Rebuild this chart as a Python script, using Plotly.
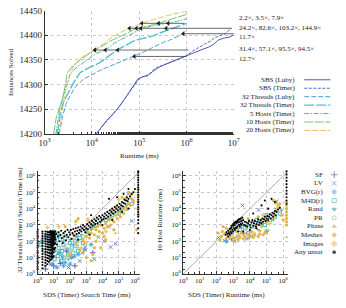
import plotly.graph_objects as go

W, H = 346, 308
FONT = "Liberation Serif"

# ---------------- top: cactus plot data (log10 runtime in ms, instances solved) ----------------
series_names = ["SBS (Luby)", "SBS (Timer)", "32 Threads (Luby)", "32 Threads (Timer)",
                "5 Hosts (Timer)", "10 Hosts (Timer)", "20 Hosts (Timer)"]

sbs_luby_log_ms = [4.09, 4.2, 4.32, 4.43, 4.55, 4.70, 4.82, 4.97, 5.08, 5.18, 5.28, 5.38, 5.5, 5.65,
                   5.8, 5.92, 6.05, 6.13, 6.3, 6.47, 6.58, 6.67, 6.78, 6.9, 7.0]
sbs_luby_solved = [14200, 14214, 14228, 14239, 14252, 14272, 14290, 14311, 14316, 14318, 14326, 14333,
                   14339, 14345, 14350, 14356, 14360, 14363, 14370, 14376, 14382, 14390, 14394, 14396, 14401]

sbs_timer_log_ms = [4.10, 4.22, 4.35, 4.45, 4.58, 4.72, 4.85, 5.0, 5.1, 5.2, 5.3, 5.4, 5.5, 5.6, 5.7,
                    5.8, 5.9, 6.0, 6.1, 6.2, 6.3, 6.4, 6.5, 6.6, 6.7, 6.8, 6.9, 6.96]
sbs_timer_solved = [14200, 14216, 14230, 14240, 14256, 14275, 14293, 14312, 14317, 14320, 14330, 14336,
                    14339, 14343, 14347, 14350, 14354, 14358, 14366, 14372, 14378, 14383, 14388, 14395,
                    14399, 14402, 14410, 14414]

t32_luby_log_ms = [3.31, 3.38, 3.45, 3.54, 3.65, 3.82, 4.0, 4.22, 4.4, 4.63, 4.78, 4.90, 5.05, 5.24,
                   5.38, 5.52, 5.62, 5.72, 5.82, 5.93]
t32_luby_solved = [14200, 14235, 14260, 14278, 14295, 14311, 14320, 14331, 14338, 14347, 14352, 14357,
                   14364, 14373, 14380, 14386, 14389, 14393, 14398, 14403]

t32_timer_log_ms = [3.27, 3.33, 3.40, 3.51, 3.62, 3.75, 3.95, 4.16, 4.35, 4.53, 4.72, 4.90, 5.1, 5.31,
                    5.45, 5.59, 5.65, 5.8, 5.95, 6.0]
t32_timer_solved = [14200, 14240, 14265, 14285, 14305, 14324, 14335, 14344, 14358, 14370, 14380, 14389,
                    14394, 14399, 14405, 14410, 14412, 14418, 14422, 14424]

h5_log_ms = [3.24, 3.30, 3.37, 3.44, 3.54, 3.65, 3.82, 3.95, 4.09, 4.29, 4.49, 4.75, 5.06, 5.3, 5.61,
             5.8, 6.0]
h5_solved = [14200, 14240, 14270, 14291, 14321, 14333, 14344, 14354, 14363, 14370, 14385, 14398, 14414,
             14419, 14424, 14428, 14433]

h10_log_ms = [3.19, 3.25, 3.32, 3.38, 3.44, 3.48, 3.6, 3.75, 3.9, 4.06, 4.25, 4.43, 4.7, 4.94, 5.2,
              5.41, 5.7, 6.0]
h10_solved = [14200, 14235, 14255, 14270, 14300, 14324, 14338, 14350, 14360, 14370, 14380, 14390, 14402,
              14414, 14419, 14424, 14433, 14442]

h20_log_ms = [3.31, 3.36, 3.42, 3.5, 3.6, 3.75, 3.9, 4.06, 4.25, 4.43, 4.6, 4.78, 5.06, 5.3, 5.5, 5.72, 6.0]
h20_solved = [14200, 14240, 14275, 14310, 14335, 14353, 14362, 14370, 14383, 14396, 14405, 14414, 14424,
              14432, 14437, 14443, 14448]

# speedup arrows: level (instances), baseline runtime (ms), speedup factors
speedup_levels = [14424, 14414, 14403, 14370, 14357]
speedup_baselines_ms = [9.0e5, 9.0e6, 1.0e7, 1.1e6, 1.0e6]
speedup_factors = [[2.2, 3.5, 7.9], [24.2, 82.6, 103.2, 144.9], [11.7], [31.4, 57.1, 95.5, 94.5], [12.7]]

top_y_ticks = [14200, 14250, 14300, 14350, 14400, 14450]
top_x_exponents = [3, 4, 5, 6, 7]
scatter_exponents = [0, 1, 2, 3, 4, 5, 6]

# ---------------- bottom: scatter data (log10 ms pairs) ----------------
scatter_categories = ["SF", "LV", "BVG(r)", "M4D(r)", "Rand", "PR", "Phase", "Meshes", "Images", "Any unsat"]

# left: search time, SDS (Timer) vs 32 Threads (Timer)
unsat_search_strips = [
    (0.00, [0.30, 0.45, 0.62, 0.78, 0.95, 1.1, 1.28, 1.42, 1.6, 1.75, 1.9, 2.05, 2.2, 2.35, 2.5, 2.62]),
    (0.30, [0.35, 0.55, 0.72, 0.9, 1.05, 1.22, 1.4, 1.55, 1.72, 1.88, 2.02, 2.18, 2.33, 2.48, 2.6]),
    (0.48, [0.5, 0.68, 0.85, 1.02, 1.2, 1.36, 1.52, 1.7, 1.86, 2.0, 2.15, 2.3, 2.45, 2.6]),
    (0.60, [0.6, 0.8, 0.98, 1.15, 1.32, 1.5, 1.66, 1.82, 1.98, 2.12, 2.28, 2.42, 2.58]),
    (0.70, [0.75, 0.95, 1.12, 1.3, 1.48, 1.64, 1.8, 1.95, 2.1, 2.25, 2.4, 2.55]),
    (0.78, [0.85, 1.05, 1.25, 1.45, 1.62, 1.78, 1.94, 2.08, 2.22, 2.38, 2.52, 2.63]),
    (0.85, [0.9, 1.1, 1.3, 1.5, 1.68, 1.85, 2.0, 2.16, 2.3, 2.46, 2.6]),
    (0.90, [1.0, 1.2, 1.42, 1.6, 1.78, 1.95, 2.1, 2.26, 2.4, 2.55]),
    (0.95, [1.05, 1.3, 1.52, 1.72, 1.9, 2.06, 2.22, 2.36, 2.5, 2.62]),
    (1.00, [1.1, 1.35, 1.58, 1.8, 1.98, 2.14, 2.3, 2.45, 2.58]),
    (1.04, [1.5, 1.85, 2.1, 2.3, 2.5]),
    (1.08, [1.6, 1.9, 2.2, 2.4, 2.6]),
    (6.20, [2.5, 2.8, 3.1, 3.3, 3.5, 3.65, 3.8, 3.95, 4.1, 4.25, 4.4, 4.55, 4.7, 4.85, 5.0, 5.15,
            5.3, 5.45, 5.6, 5.75, 5.9, 6.05, 6.2, 6.28]),
]
unsat_search_pts = [
    (1.12, 2.1), (1.15, 2.45), (1.2, 1.8), (1.25, 2.3), (1.3, 2.55), (1.35, 2.0), (1.4, 2.4), (1.45, 2.65),
    (1.5, 2.2), (1.55, 1.9), (1.6, 2.5), (1.65, 2.3), (1.7, 2.6), (1.75, 2.05), (1.8, 2.4), (1.85, 2.7),
    (1.9, 2.25), (1.95, 2.55), (2.0, 2.4), (2.05, 2.7), (2.1, 2.15), (2.15, 2.5), (2.2, 2.75), (2.25, 2.35),
    (2.3, 2.6), (2.35, 2.8), (2.4, 2.45), (2.45, 2.65), (2.5, 2.85), (2.55, 2.5), (2.6, 2.7), (2.65, 2.9),
    (2.7, 2.6), (2.75, 2.8), (2.8, 3.0), (2.85, 2.7), (2.9, 2.9), (2.95, 2.55), (3.0, 2.8), (3.05, 3.05),
    (3.1, 2.75), (3.15, 2.95), (3.2, 3.15), (3.25, 2.85), (3.3, 3.05), (3.35, 3.25), (3.4, 2.95),
    (3.45, 3.15), (3.5, 3.35), (3.55, 3.05), (3.6, 3.25), (3.65, 3.45), (3.7, 3.1), (3.75, 3.35),
    (3.8, 3.55), (3.85, 3.2), (3.9, 3.45), (3.95, 3.3), (4.0, 3.6), (4.05, 3.35), (4.1, 3.5), (4.15, 3.7),
    (4.2, 3.4), (4.25, 3.6), (4.3, 3.8), (4.35, 3.5), (4.4, 3.7), (4.45, 3.9), (4.5, 3.6), (4.55, 3.8),
    (4.6, 4.0), (4.65, 3.7), (4.7, 3.9), (4.75, 4.1), (4.8, 3.8), (4.85, 4.0), (4.9, 4.2), (4.95, 3.9),
    (5.0, 4.1), (5.05, 4.3), (5.1, 4.0), (5.15, 4.2), (5.2, 4.4), (5.25, 4.15), (5.3, 4.35), (5.35, 4.55),
    (5.4, 4.3), (5.45, 4.5), (5.5, 4.7), (5.55, 4.45), (5.6, 4.6), (5.7, 4.75), (5.8, 4.9), (5.9, 5.0),
    (6.0, 5.2), (4.4, 4.6), (4.9, 4.7), (5.3, 4.9), (3.3, 3.6), (5.6, 5.2), (2.5, 2.1), (3.2, 2.4),
    (4.0, 3.0), (4.6, 3.3), (5.2, 3.8), (5.6, 4.0), (6.2, 6.35),
]
meshes_search_pts = [
    (1.7, 2.9), (2.2, 2.4), (2.5, 2.0), (2.8, 2.1), (2.9, 1.9), (3.0, 2.3), (3.1, 2.6), (3.2, 2.2),
    (3.3, 2.5), (3.4, 2.8), (3.5, 2.4), (3.6, 2.7), (3.7, 2.9), (3.8, 2.6), (3.9, 3.0), (4.0, 2.5),
    (4.1, 2.8), (4.2, 3.1), (4.3, 2.9), (4.4, 3.3), (4.5, 3.0), (4.6, 3.4), (4.7, 3.2), (4.8, 3.6),
    (4.9, 3.4), (5.0, 3.8), (5.1, 3.5), (5.2, 3.9), (5.3, 3.7), (5.4, 4.1), (5.5, 4.0), (5.6, 4.3),
    (5.7, 4.2), (5.8, 4.6), (5.9, 4.5), (5.2, 4.7), (5.6, 5.0), (5.8, 4.9), (4.8, 4.1), (3.1, 3.3),
    (2.5, 3.4), (2.35, 3.2), (4.5, 3.4), (3.6, 2.0), (3.9, 1.6), (4.2, 2.1), (4.7, 2.7), (2.6, 1.5),
    (2.8, 1.3), (3.0, 1.0), (3.3, 0.8), (2.0, 1.2), (1.9, 1.1), (3.5, 1.6), (6.1, 2.7), (6.2, 3.6),
    (6.2, 4.0), (6.2, 4.4), (6.2, 4.8), (6.2, 5.2), (3.4, 1.2), (4.1, 2.3), (2.4, 1.8),
]
images_search_pts = [(2.4, 3.25), (3.1, 3.35), (4.6, 3.9), (3.0, 1.9), (5.4, 4.6), (1.3, 2.9), (5.0, 4.55),
                     (2.7, 1.6), (4.2, 2.6), (0.6, 2.85)]
phase_search_pts = [(4.8, 2.5), (5.5, 3.9), (2.1, 1.5), (3.7, 2.3)]
m4d_search_pts = [
    (0.5, 2.3), (0.7, 2.5), (0.9, 2.0), (1.0, 2.6), (1.1, 1.9), (1.2, 2.3), (1.3, 1.6), (1.4, 2.1),
    (1.5, 1.4), (1.6, 1.8), (1.7, 2.2), (1.8, 1.5), (1.9, 1.2), (2.0, 1.9), (2.1, 1.6), (2.2, 1.3),
    (2.3, 2.0), (2.4, 1.7), (2.5, 1.4), (2.6, 2.2), (2.8, 1.9), (3.0, 2.6), (3.4, 2.9), (3.8, 3.1),
    (4.2, 3.3), (4.6, 3.6), (5.0, 3.7), (5.4, 4.0), (5.8, 4.3), (0.3, 2.0), (0.6, 1.6), (0.85, 1.3),
    (1.05, 0.9), (1.25, 1.1), (1.45, 0.8), (1.65, 1.0), (0.2, 1.8), (0.4, 1.4),
]
rand_search_pts = [
    (0.8, 2.4), (1.0, 2.2), (1.2, 2.55), (1.4, 2.35), (1.6, 2.0), (1.8, 2.3), (2.0, 2.1), (2.2, 1.8),
    (2.4, 2.3), (2.7, 2.4), (3.0, 2.7), (3.3, 2.7), (3.6, 2.9), (3.9, 3.2), (4.3, 3.4), (4.7, 3.7),
    (5.1, 3.9), (5.5, 4.2), (1.1, 1.4), (1.5, 1.2), (1.9, 0.9), (2.3, 1.1),
]
bvg_search_pts = [(1.3, 1.3), (1.7, 0.7), (2.1, 1.0), (2.5, 1.2), (0.9, 0.6), (1.2, 0.4), (2.9, 1.5),
                  (3.3, 1.8), (1.6, 0.5), (2.0, 0.6)]
lv_search_pts = [(0.8, 0.6), (1.5, 1.05), (2.2, 1.05), (2.75, 1.3), (2.95, 1.65), (3.75, 2.25), (4.5, 1.65),
                 (4.8, 1.85), (2.4, 2.25), (3.15, 2.45), (5.8, 3.25), (5.6, 4.9), (3.5, 0.9), (4.1, 2.0),
                 (2.6, 0.8), (1.9, 0.4), (4.4, 2.9)]
sf_search_pts = [(0.5, 0.3), (1.0, 0.5), (1.4, 0.65), (2.3, 0.5), (3.4, 1.3), (1.8, 1.4)]
pr_search_pts = [(2.8, 2.3), (3.6, 3.0), (4.4, 3.4), (5.2, 4.0), (1.6, 2.4)]

# right: runtime, SDS (Timer) vs 10 Hosts
unsat_runtime_strips = [
    (6.2, [4.3, 4.5, 4.7, 4.9, 5.1, 5.3, 5.5, 5.7, 5.9, 6.1, 6.28]),
]
unsat_runtime_pts = [
    (2.55, 2.4), (2.6, 2.55), (2.65, 2.45), (2.7, 2.65), (2.75, 2.5), (2.8, 2.75), (2.85, 2.6), (2.9, 2.85),
    (2.95, 2.7), (3.0, 2.95), (3.05, 2.8), (3.1, 3.0), (3.15, 2.85), (3.2, 3.1), (3.25, 2.9), (3.3, 3.15),
    (3.35, 3.0), (3.4, 3.2), (3.45, 3.05), (3.5, 3.25), (3.55, 3.1), (3.6, 3.3), (3.65, 3.0), (3.7, 3.2),
    (3.75, 2.95), (3.8, 3.15), (3.85, 2.9), (3.9, 3.1), (3.95, 3.25), (4.0, 3.0), (4.05, 2.85), (4.1, 3.15),
    (4.15, 3.3), (4.2, 2.95), (4.25, 3.1), (4.3, 3.25), (4.35, 2.9), (4.4, 3.05), (4.45, 3.2), (4.5, 3.35),
    (4.55, 3.0), (4.6, 3.15), (4.65, 3.3), (4.7, 3.1), (4.75, 3.4), (4.8, 3.2), (4.85, 3.35), (4.9, 3.5),
    (4.95, 3.25), (5.0, 3.4), (5.05, 3.55), (5.1, 3.3), (5.15, 3.5), (5.2, 3.65), (5.25, 3.4), (5.3, 3.6),
    (5.35, 3.75), (5.4, 3.5), (5.45, 3.7), (5.5, 3.85), (5.55, 3.6), (5.6, 3.8), (5.7, 3.95), (5.8, 4.05),
    (2.9, 2.95), (3.0, 3.05), (3.1, 3.15), (3.2, 3.2), (3.3, 3.3), (3.4, 3.35), (3.15, 3.2), (3.25, 3.25),
    (3.35, 3.35), (2.85, 2.8), (3.05, 3.1), (3.45, 3.4), (3.55, 3.45), (2.7, 2.3), (2.8, 2.4), (2.9, 2.5),
    (3.0, 2.6), (3.1, 2.7), (3.2, 2.8), (3.3, 2.6), (3.4, 2.9), (3.5, 3.0),
    (4.7, 4.2), (4.9, 4.5), (5.3, 4.6), (5.1, 4.0), (4.2, 3.7), (5.5, 4.4), (4.0, 2.7), (3.6, 2.6),
    (4.4, 2.8),
]
meshes_runtime_pts = [
    (2.1, 2.5), (2.3, 2.3), (2.5, 2.45), (2.6, 2.2), (2.8, 2.15), (3.0, 2.05), (3.1, 2.2), (3.3, 2.1),
    (3.4, 2.25), (3.6, 2.15), (3.7, 2.3), (3.9, 2.2), (4.0, 2.35), (4.2, 2.25), (4.3, 2.4), (4.5, 2.3),
    (4.6, 2.45), (4.8, 2.4), (4.9, 2.55), (5.0, 2.5), (3.5, 2.5), (4.1, 2.6), (2.6, 2.8), (2.4, 2.9),
    (3.2, 2.6), (3.8, 2.8), (4.4, 3.0), (4.7, 2.9), (5.0, 3.2), (5.3, 3.4), (5.5, 3.6), (5.6, 3.9),
    (5.7, 4.2), (5.4, 4.5), (5.55, 4.35), (5.8, 4.3), (5.9, 3.6), (6.0, 3.3), (3.9, 3.4), (4.5, 3.5),
    (2.2, 2.1), (6.2, 3.0), (6.2, 3.2), (6.2, 3.4), (6.2, 3.6), (6.2, 3.8), (6.2, 4.0), (6.2, 4.2),
    (6.2, 4.4), (2.35, 2.6), (2.8, 2.55), (3.35, 2.4), (3.85, 2.45), (4.6, 2.65),
]
images_runtime_pts = [(3.3, 2.4), (4.2, 2.5), (5.2, 3.1), (2.9, 2.3), (5.7, 4.1), (4.8, 3.6)]
phase_runtime_pts = [(6.2, 2.25), (5.1, 2.7)]
m4d_runtime_pts = [(3.7, 2.8), (4.0, 3.1), (4.3, 2.9), (4.6, 3.2), (4.9, 3.0), (5.2, 3.3), (5.5, 3.5),
                   (5.8, 3.7), (3.4, 2.7), (3.9, 2.5), (4.4, 3.3), (5.0, 3.6), (2.9, 2.4)]
rand_runtime_pts = [(3.8, 3.0), (4.2, 3.2), (4.7, 3.0), (5.1, 3.4), (5.4, 3.3), (5.9, 3.9), (3.5, 2.85),
                    (4.5, 2.7)]
bvg_runtime_pts = [(2.6, 2.0), (3.3, 2.3), (4.0, 2.3), (5.0, 2.6)]
lv_runtime_pts = [(2.12, 2.23), (2.46, 2.05), (3.56, 4.2), (4.52, 3.92), (5.58, 3.95), (5.6, 4.45),
                  (4.23, 2.43), (3.1, 2.0), (3.8, 2.15)]
sf_runtime_pts = [(2.9, 2.2), (3.6, 2.5)]
pr_runtime_pts = [(3.3, 2.9), (4.1, 2.9), (4.8, 3.3)]

scatter_log_range = [0, 6.28]

# ---------------- styles ----------------
line_colors = ["#4b3f9c", "#2f62bd", "#3b8fd6", "#4ec0d2", "#35ae9f", "#69bd5e", "#e3bd58"]
line_dashes = ["solid", "3px,1.5px", "5px,2px", "10px,2px", "5px,1.5px,1.5px,1.5px", "9px,1.5px", "6px,2px"]
line_widths = [0.9, 0.9, 0.9, 1.4, 0.9, 0.9, 0.9]

cat_colors = ["#3b3b8f", "#3f6fc6", "#3a9ad6", "#2aa5b5", "#38b59c", "#78c178", "#c8c27a", "#e2b447",
              "#f2c46b", "#000000"]
cat_symbols = ["cross-thin", "x-thin", "asterisk", "square-open", "triangle-down", "circle-open",
               "triangle-up", "pentagon", "cross", "circle"]
cat_sizes = [4, 3.6, 4, 3.2, 3.2, 3.2, 3.2, 3.6, 3.6, 2.1]


def px(x):
    return x / W


def py(y):
    return 1 - y / H


fig = go.Figure()

curves = [
    (sbs_luby_log_ms, sbs_luby_solved), (sbs_timer_log_ms, sbs_timer_solved),
    (t32_luby_log_ms, t32_luby_solved), (t32_timer_log_ms, t32_timer_solved),
    (h5_log_ms, h5_solved), (h10_log_ms, h10_solved), (h20_log_ms, h20_solved),
]
for i, (lx, ys) in enumerate(curves):
    fig.add_trace(go.Scatter(
        x=[10 ** v for v in lx], y=ys, mode="lines", name=series_names[i],
        line=dict(color=line_colors[i], dash=line_dashes[i], width=line_widths[i]),
        xaxis="x", yaxis="y", showlegend=False))

# speedup arrows
for lvl, base, facs in zip(speedup_levels, speedup_baselines_ms, speedup_factors):
    tips = [base / f for f in facs]
    fig.add_trace(go.Scatter(x=[base, min(tips)], y=[lvl, lvl], mode="lines",
                             line=dict(color="#444444", width=0.8), xaxis="x", yaxis="y",
                             showlegend=False))
    fig.add_trace(go.Scatter(x=tips, y=[lvl] * len(tips), mode="markers",
                             marker=dict(symbol="triangle-left", size=4.5, color="#222222"),
                             xaxis="x", yaxis="y", showlegend=False))

annotations = []
label_shift = [5, 0, -3, 1.5, -2.5]
for lvl, facs, sh in zip(speedup_levels, speedup_factors, label_shift):
    annotations.append(dict(
        text=", ".join(f"{f}\u00d7" for f in facs), x=px(240), xref="paper", y=lvl, yref="y",
        xanchor="left", yanchor="middle", yshift=sh, showarrow=False, borderpad=0,
        font=dict(family=FONT, size=7, color="#222")))

# top legend (text left of line sample)
shapes = []
for i, name in enumerate(series_names):
    yy = 77.3 + 8.73 * i
    shapes.append(dict(type="line", xref="paper", yref="paper", x0=px(309), x1=px(336),
                       y0=py(yy), y1=py(yy),
                       line=dict(color=line_colors[i], dash=line_dashes[i], width=line_widths[i])))
    annotations.append(dict(text=name, x=px(300), y=py(yy), xref="paper", yref="paper",
                            xanchor="right", yanchor="middle", showarrow=False, borderpad=0,
                            font=dict(family=FONT, size=7, color="#222")))


# scatter plots
def expand(strips, pts):
    xs, ys = [], []
    for x, col in strips:
        for y in col:
            xs.append(x)
            ys.append(y)
    for x, y in pts:
        xs.append(x)
        ys.append(y)
    return xs, ys


left_sets = [sf_search_pts, lv_search_pts, bvg_search_pts, m4d_search_pts, rand_search_pts, pr_search_pts,
             phase_search_pts, meshes_search_pts, images_search_pts, None]
right_sets = [sf_runtime_pts, lv_runtime_pts, bvg_runtime_pts, m4d_runtime_pts, rand_runtime_pts,
              pr_runtime_pts, phase_runtime_pts, meshes_runtime_pts, images_runtime_pts, None]

for axn, sets, strips, upts in [("2", left_sets, unsat_search_strips, unsat_search_pts),
                                 ("3", right_sets, unsat_runtime_strips, unsat_runtime_pts)]:
    # diagonal reference line
    fig.add_trace(go.Scatter(x=[10 ** scatter_log_range[0], 10 ** scatter_log_range[1]],
                             y=[10 ** scatter_log_range[0], 10 ** scatter_log_range[1]],
                             mode="lines", line=dict(color="#999999", width=0.8),
                             xaxis="x" + axn, yaxis="y" + axn, showlegend=False))
    for ci, cat in enumerate(scatter_categories):
        if sets[ci] is None:
            xs, ys = expand(strips, upts)
        else:
            xs, ys = expand([], sets[ci])
        filled = cat_symbols[ci] in ("triangle-down", "triangle-up", "pentagon", "cross", "circle")
        fig.add_trace(go.Scatter(
            x=[10 ** v for v in xs], y=[10 ** v for v in ys], mode="markers", name=cat,
            marker=dict(symbol=cat_symbols[ci], size=cat_sizes[ci], color=cat_colors[ci],
                        line=dict(color=cat_colors[ci], width=0 if filled else 0.8)),
            xaxis="x" + axn, yaxis="y" + axn, showlegend=False, cliponaxis=False))

# scatter legend on its own hidden axis
fig.add_trace(go.Scatter(
    x=[20] * len(scatter_categories), y=list(range(len(scatter_categories))), mode="markers",
    marker=dict(symbol=cat_symbols, size=[s + 0.8 for s in cat_sizes], color=cat_colors,
                line=dict(color=cat_colors, width=0.8)),
    xaxis="x4", yaxis="y4", showlegend=False))
for i, cat in enumerate(scatter_categories):
    annotations.append(dict(text=cat, x=9, y=i, xref="x4", yref="y4", xanchor="right",
                            yanchor="middle", showarrow=False, borderpad=0,
                            font=dict(family=FONT, size=7, color="#222")))

# axis titles
title_font = dict(family=FONT, size=7, color="#222")
for text, x, y, ang in [("Instances Solved", 5, 69.5, -90), ("Runtime (ms)", 138, 156, 0),
                        ("SDS (Timer) Search Time (ms)", 84, 300, 0),
                        ("32 Threads (Timer) Search Time (ms)", 14, 222, -90),
                        ("SDS (Timer) Runtime (ms)", 228, 300, 0),
                        ("10 Host Runtime (ms)", 159, 222, -90)]:
    annotations.append(dict(text=text, x=px(x), y=py(y), xref="paper", yref="paper", xanchor="center",
                            yanchor="middle", textangle=ang, showarrow=False, font=title_font))

axis_common = dict(showline=True, linecolor="#333", linewidth=0.8, ticks="inside", tickcolor="#333",
                   ticklen=3, tickwidth=0.6, showgrid=True, gridcolor="#c8c8c8", griddash="dot",
                   gridwidth=0.6, zeroline=False, mirror=False)
log_minor = dict(ticks="inside", ticklen=1.8, tickcolor="#333", tickwidth=0.5, showgrid=False)

top_x_vals = [10 ** e for e in top_x_exponents]
top_x_text = [f"10<sup>{e}</sup>" for e in top_x_exponents]
sc_vals = [10 ** e for e in scatter_exponents]
sc_text = [f"10<sup>{e}</sup>" for e in scatter_exponents]

small_tick = dict(family=FONT, size=7, color="#222")
big_tick = dict(family=FONT, size=9, color="#222")
sc_axis = dict(type="log", range=scatter_log_range, tickvals=sc_vals, ticktext=sc_text, minor=log_minor,
               tickfont=small_tick, **axis_common)
fig.update_layout(
    width=W, height=H, margin=dict(l=0, r=0, t=0, b=0), paper_bgcolor="white", plot_bgcolor="white",
    showlegend=False, annotations=annotations, shapes=shapes,
    xaxis=dict(domain=[px(40), px(236)], type="log", range=[3, 7], tickvals=top_x_vals, ticktext=top_x_text,
               anchor="y", minor=log_minor, tickfont=big_tick, **axis_common),
    yaxis=dict(domain=[py(133.3), py(5.7)], range=[14200, 14450], tickvals=top_y_ticks,
               ticktext=[str(v) for v in top_y_ticks], anchor="x", tickfont=big_tick, **axis_common),
    xaxis2=dict(domain=[px(32.7), px(138.3)], anchor="y2", **sc_axis),
    yaxis2=dict(domain=[py(278), py(172)], anchor="x2", **sc_axis),
    xaxis3=dict(domain=[px(183.5), px(292)], anchor="y3", **sc_axis),
    yaxis3=dict(domain=[py(278), py(172)], anchor="x3", **sc_axis),
    xaxis4=dict(domain=[px(320), px(346)], range=[0, 26], visible=False, anchor="y4"),
    yaxis4=dict(domain=[py(260), py(171)], range=[9.5, -0.5], visible=False, anchor="x4"),
)

fig.write_html("out.html")
